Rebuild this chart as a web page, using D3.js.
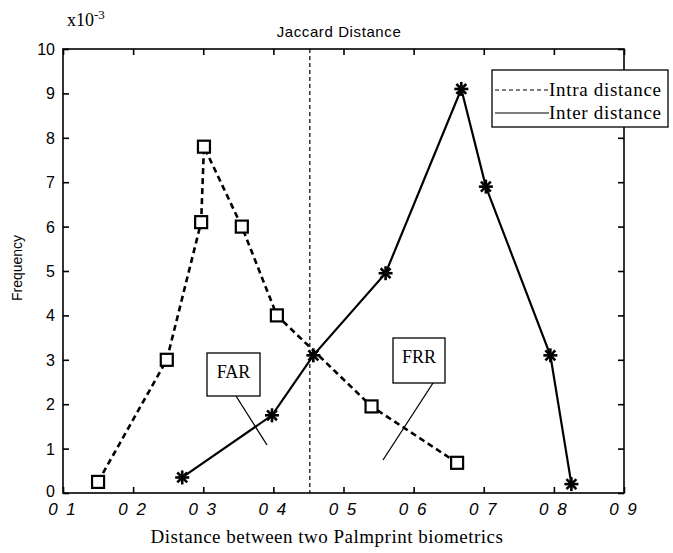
<!DOCTYPE html>
<html>
<head>
<meta charset="utf-8">
<script src="https://cdn.jsdelivr.net/npm/d3@7"></script>
<style>
  body { margin: 0; background: #fff; }
  svg { display: block; }
</style>
</head>
<body>
<div id="chart"></div>
<script>
// data (frequency in units of 1e-3)
var intraX = [0.15, 0.248, 0.297, 0.301, 0.355, 0.405, 0.54, 0.662];
var intraY = [0.25, 3.0, 6.1, 7.8, 6.0, 4.0, 1.95, 0.68];
var interX = [0.27, 0.398, 0.457, 0.56, 0.668, 0.703, 0.795, 0.825];
var interY = [0.35, 1.75, 3.1, 4.95, 9.1, 6.9, 3.1, 0.2];
var xTicks = [0.1, 0.2, 0.3, 0.4, 0.5, 0.6, 0.7, 0.8, 0.9];
var xTickLabels = ["0 1", "0 2", "0 3", "0 4", "0 5", "0 6", "0 7", "0 8", "0 9"];
var yTicks = [0, 1, 2, 3, 4, 5, 6, 7, 8, 9, 10];
var threshold = 0.452;
var legendLabels = ["Intra distance", "Inter distance"];

var width = 673, height = 553;
var x = d3.scaleLinear().domain([0.1, 0.9]).range([63, 624]);
var y = d3.scaleLinear().domain([0, 10]).range([493, 49]);

var svg = d3.select("#chart").append("svg")
    .attr("width", width)
    .attr("height", height);

// frame
svg.append("rect")
    .attr("x", x(0.1)).attr("y", y(10))
    .attr("width", x(0.9) - x(0.1)).attr("height", y(0) - y(10))
    .attr("fill", "none").attr("stroke", "#000").attr("stroke-width", 1.6);

// inward ticks
var bottomAxis = d3.axisBottom(x).tickValues(xTicks).tickSize(-6).tickFormat("");
var topAxis = d3.axisTop(x).tickValues(xTicks).tickSize(-6).tickFormat("");
var leftAxis = d3.axisLeft(y).tickValues(yTicks).tickSize(-6).tickFormat("");
var rightAxis = d3.axisRight(y).tickValues(yTicks).tickSize(-6).tickFormat("");
[[bottomAxis, "translate(0," + y(0) + ")"], [topAxis, "translate(0," + y(10) + ")"],
 [leftAxis, "translate(" + x(0.1) + ",0)"], [rightAxis, "translate(" + x(0.9) + ",0)"]]
  .forEach(function (a) {
    var g = svg.append("g").attr("transform", a[1]).call(a[0]);
    g.select(".domain").remove();
    g.selectAll("line").attr("stroke", "#000").attr("stroke-width", 1.6);
  });

// tick labels
svg.selectAll(".xlab").data(xTicks).enter().append("text")
    .attr("class", "xlab")
    .attr("x", function (d) { return x(d); })
    .attr("y", 515)
    .attr("text-anchor", "middle")
    .style("font-family", "Liberation Sans, Arial, sans-serif")
    .style("font-size", "17px")
    .style("font-style", "italic")
    .style("letter-spacing", "2px")
    .text(function (d, i) { return xTickLabels[i]; });

svg.selectAll(".ylab").data(yTicks).enter().append("text")
    .attr("class", "ylab")
    .attr("x", 55)
    .attr("y", function (d) { return y(d) + (d === 0 ? 4 : 6); })
    .attr("text-anchor", "end")
    .style("font-family", "Liberation Sans, Arial, sans-serif")
    .style("font-size", "16px")
    .text(function (d) { return d; });

svg.append("text")
    .attr("x", 67).attr("y", 26)
    .style("font-family", "Liberation Serif, serif")
    .style("font-size", "18px")
    .html('x10<tspan dy="-7" font-size="13">-3</tspan>');

svg.append("text")
    .attr("x", 339).attr("y", 37)
    .attr("text-anchor", "middle")
    .style("font-family", "Liberation Sans, Arial, sans-serif")
    .style("font-size", "15px")
    .style("letter-spacing", "0.6px")
    .text("Jaccard Distance");

svg.append("text")
    .attr("transform", "translate(22,268) rotate(-90)")
    .attr("text-anchor", "middle")
    .style("font-family", "Liberation Sans, Arial, sans-serif")
    .style("font-size", "14px")
    .text("Frequency");

svg.append("text")
    .attr("x", 327).attr("y", 543)
    .attr("text-anchor", "middle")
    .style("font-family", "Liberation Serif, serif")
    .style("font-size", "19px")
    .style("letter-spacing", "0.5px")
    .text("Distance between two Palmprint biometrics");

// threshold line
svg.append("line")
    .attr("x1", x(threshold)).attr("x2", x(threshold))
    .attr("y1", y(10)).attr("y2", y(0))
    .attr("stroke", "#000").attr("stroke-width", 1.2)
    .attr("stroke-dasharray", "4,3");

var line = d3.line()
    .x(function (d) { return x(d[0]); })
    .y(function (d) { return y(d[1]); });

var intra = d3.zip(intraX, intraY);
var inter = d3.zip(interX, interY);

svg.append("path").datum(inter)
    .attr("d", line).attr("fill", "none")
    .attr("stroke", "#000").attr("stroke-width", 2.2);

svg.append("path").datum(intra)
    .attr("d", line).attr("fill", "none")
    .attr("stroke", "#000").attr("stroke-width", 2.6)
    .attr("stroke-dasharray", "6,4");

// square markers
svg.selectAll(".sq").data(intra).enter().append("rect")
    .attr("class", "sq")
    .attr("x", function (d) { return x(d[0]) - 6; })
    .attr("y", function (d) { return y(d[1]) - 6; })
    .attr("width", 12).attr("height", 12)
    .attr("fill", "#fff").attr("stroke", "#000").attr("stroke-width", 2.2);

// star markers
var star = svg.selectAll(".star").data(inter).enter().append("g")
    .attr("class", "star")
    .attr("transform", function (d) { return "translate(" + x(d[0]) + "," + y(d[1]) + ")"; });
[0, 45, 90, 135].forEach(function (a) {
    star.append("line")
        .attr("x1", -7).attr("x2", 7).attr("y1", 0).attr("y2", 0)
        .attr("transform", "rotate(" + a + ")")
        .attr("stroke", "#000").attr("stroke-width", 2.6);
});

// annotation callouts
function callout(label, bx, by, bw, bh, lx1, ly1, lx2, ly2) {
    svg.append("line")
        .attr("x1", lx1).attr("y1", ly1).attr("x2", lx2).attr("y2", ly2)
        .attr("stroke", "#000").attr("stroke-width", 1.3);
    svg.append("rect")
        .attr("x", bx).attr("y", by).attr("width", bw).attr("height", bh)
        .attr("fill", "#fff").attr("stroke", "#000").attr("stroke-width", 1.3);
    svg.append("text")
        .attr("x", bx + bw / 2).attr("y", by + 25)
        .attr("text-anchor", "middle")
        .style("font-family", "Liberation Serif, serif")
        .style("font-size", "18px")
        .text(label);
}
callout("FAR", 207, 353, 53, 43, 236, 396, 267, 445);
callout("FRR", 393, 338, 52, 45, 433, 383, 383, 460);

// legend
var lg = svg.append("g");
lg.append("rect")
    .attr("x", 492).attr("y", 70).attr("width", 176).attr("height", 57)
    .attr("fill", "#fff").attr("stroke", "#000").attr("stroke-width", 1.3);
legendLabels.forEach(function (t, i) {
    var ly = 90 + i * 23;
    lg.append("line")
        .attr("x1", 495).attr("x2", 549).attr("y1", ly).attr("y2", ly)
        .attr("stroke", "#000").attr("stroke-width", 1.2)
        .attr("stroke-dasharray", i === 0 ? "4,3" : null);
    lg.append("text")
        .attr("x", 549).attr("y", ly + 6)
        .style("font-family", "Liberation Serif, serif")
        .style("font-size", "19px")
        .style("letter-spacing", "0.7px")
        .text(t);
});
</script>
</body>
</html>
